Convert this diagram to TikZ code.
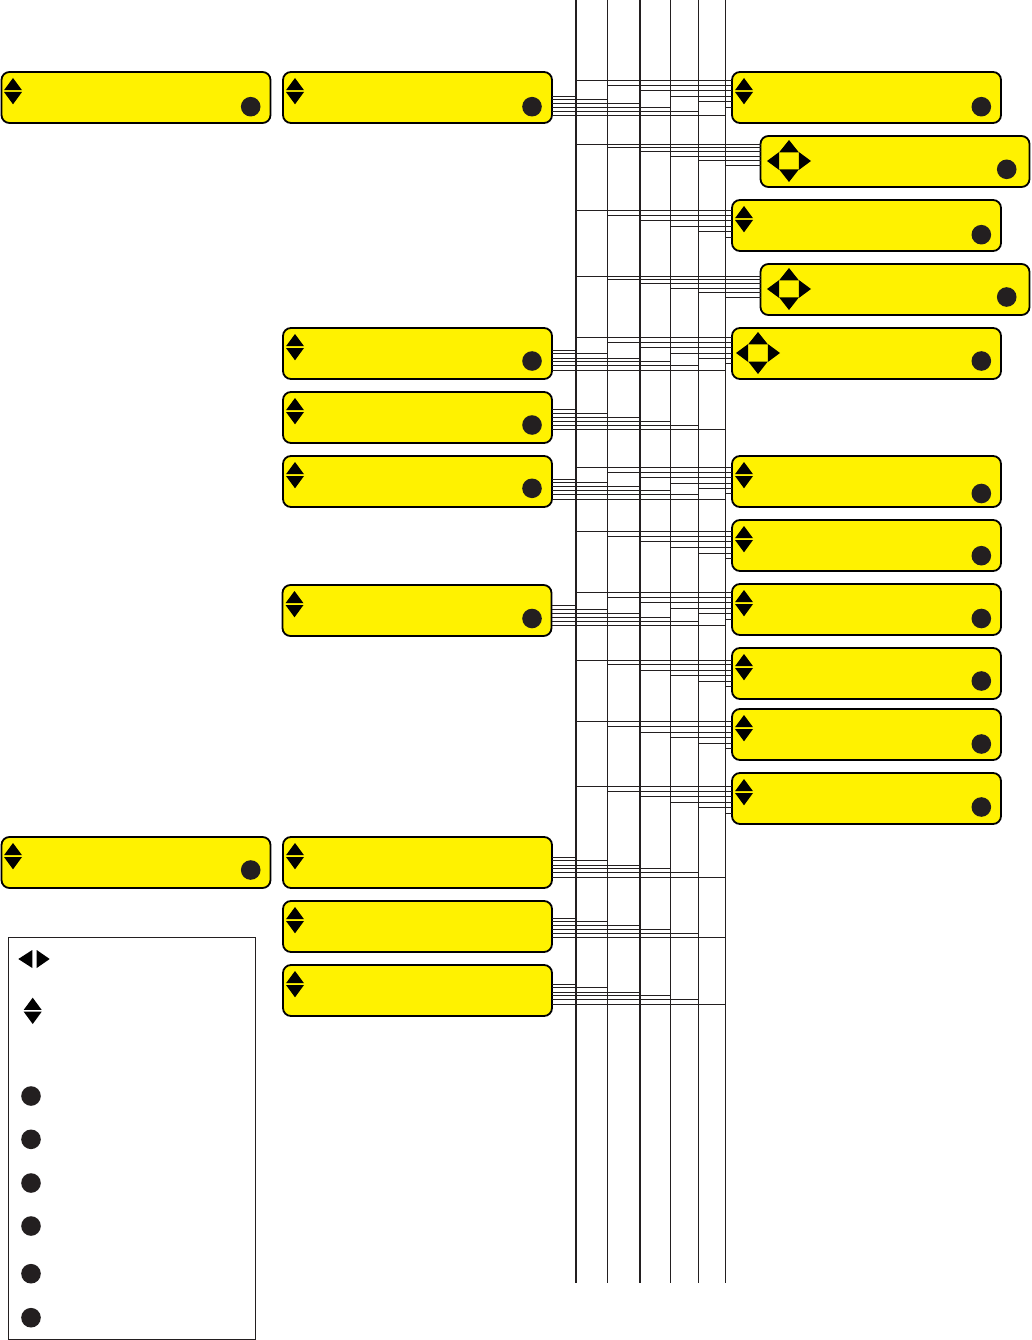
\documentclass[tikz,border=0pt]{standalone}
\definecolor{panelyellow}{HTML}{FFF200}
\definecolor{ink}{HTML}{231F20}
\tikzset{
  x=1bp,y=-1bp,
  panel/.style={draw=black,line width=1.8bp,fill=panelyellow,rounded corners=8bp,
    minimum width=269bp,minimum height=51bp,inner sep=0pt,outer sep=0pt,anchor=north west},
  legendbox/.style={draw=ink,line width=1bp,fill=white,minimum width=247bp,minimum height=402bp,
    inner sep=0pt,outer sep=0pt,anchor=north west},
  bus/.style={draw=ink,line width=2.1bp},
  thinbus/.style={draw=ink,line width=1bp},
  wire/.style={draw=ink,line width=0.9bp},
  knob/.style={circle,fill=ink,minimum size=19.6bp,inner sep=0pt,outer sep=0pt},
  tri/.style={fill=black,draw=none}
}
% up/down arrow pair: centre x, top apex y
\newcommand{\updown}[2]{
  \fill[tri] (#1-9,#2+12.2) -- (#1,#2) -- (#1+9,#2+12.2) -- cycle;
  \fill[tri] (#1-9,#2+14) -- (#1,#2+26.3) -- (#1+9,#2+14) -- cycle;
}
% four-way arrows: centre x, centre y
\newcommand{\fourway}[2]{
  \fill[tri] (#1-9.8,#2-8.7) -- (#1,#2-21) -- (#1+9.8,#2-8.7) -- cycle;
  \fill[tri] (#1-9.8,#2+8.5) -- (#1,#2+21) -- (#1+9.8,#2+8.5) -- cycle;
  \fill[tri] (#1-9.8,#2-9) -- (#1-22,#2) -- (#1-9.8,#2+9) -- cycle;
  \fill[tri] (#1+9.8,#2-9) -- (#1+22,#2) -- (#1+9.8,#2+9) -- cycle;
}
% wires from each of the six buses to the left edge of a panel
\newcommand{\wiresin}[7]{
  \foreach \bb/\yy in {b1/#2,b2/#3,b3/#4,b4/#5,b5/#6,b6/#7}
    \draw[wire] (\bb |- 0,\yy) -- (#1.west |- 0,\yy);
}
% wires from the right edge of a panel to each of the six buses
\newcommand{\wiresout}[7]{
  \foreach \bb/\yy in {b1/#2,b2/#3,b3/#4,b4/#5,b5/#6,b6/#7}
    \draw[wire] (#1.east |- 0,\yy) -- (\bb |- 0,\yy);
}
\begin{document}
\begin{tikzpicture}
\useasboundingbox (0,0) rectangle (1031,1340);
% buses
\foreach \nm/\xx in {b1/575.7,b2/607.3,b3/639.7,b4/670.3,b5/698.3,b6/725.3}{
  \coordinate (\nm) at (\xx,0);
  \coordinate (\nm e) at (\xx,1283);
}
\draw[bus] (b1) -- (b1e);
\draw[thinbus] (b2) -- (b2e);
\draw[bus] (b3) -- (b3e);
\draw[thinbus] (b4) -- (b4e);
\draw[thinbus] (b5) -- (b5e);
\draw[thinbus] (b6) -- (b6e);
% panels, first column
\node[panel] (a1) at (1.5,72) {};
\node[panel] (a2) at (1.5,837) {};
% panels, second column
\node[panel] (m1) at (283,72) {};
\node[panel] (m2) at (283,328) {};
\node[panel] (m3) at (283,392) {};
\node[panel] (m4) at (283,456) {};
\node[panel] (m5) at (282.5,585) {};
\node[panel] (m6) at (283,837) {};
\node[panel] (m7) at (283,901) {};
\node[panel] (m8) at (283,965) {};
% panels, third column
\node[panel] (r1) at (732,72) {};
\node[panel] (r2) at (760.5,136) {};
\node[panel] (r3) at (732,200) {};
\node[panel] (r4) at (760.5,264) {};
\node[panel] (r5) at (732,328) {};
\node[panel] (r6) at (732,456) {};
\node[panel] (r7) at (732,520) {};
\node[panel] (r8) at (732,584) {};
\node[panel] (r9) at (732,648) {};
\node[panel] (r10) at (732,709) {};
\node[panel] (r11) at (732,773) {};
% wires
\wiresout{m1}{96.3}{99.5}{103.3}{107.3}{111.3}{115.3}
\wiresout{m2}{350.3}{353.3}{358.3}{361.3}{365.3}{370.3}
\wiresout{m3}{409.3}{413.3}{417.3}{421.3}{425.3}{429.3}
\wiresout{m4}{479.3}{482.3}{486.3}{490.3}{494.3}{499.3}
\wiresout{m5}{605.3}{609.3}{613.3}{617.3}{621.3}{625.3}
\wiresout{m6}{857.3}{860.3}{865.3}{868.3}{872.3}{877.3}
\wiresout{m7}{918.3}{921.3}{925.3}{929.3}{933.3}{937.3}
\wiresout{m8}{984.3}{987.3}{992.3}{995.3}{999.3}{1004.3}
\wiresin{r1}{80.3}{85.3}{90.3}{96.3}{101.3}{107.3}
\wiresin{r2}{144.3}{147.5}{151.3}{156.3}{160.3}{165.3}
\wiresin{r3}{210.3}{215.3}{220.3}{226.3}{231.3}{237.3}
\wiresin{r4}{276.3}{279.3}{283.3}{288.3}{292.3}{297.3}
\wiresin{r5}{337.3}{342.3}{347.3}{353.3}{358.3}{363.3}
\wiresin{r6}{467.3}{472.3}{477.3}{483.3}{488.3}{493.3}
\wiresin{r7}{531.3}{536.3}{541.3}{547.3}{553.3}{558.3}
\wiresin{r8}{592.3}{597.3}{602.3}{608.3}{613.3}{619.3}
\wiresin{r9}{660.3}{664.3}{670.3}{675.3}{681.3}{686.3}
\wiresin{r10}{721.3}{726.3}{732.3}{737.3}{743.3}{748.3}
\wiresin{r11}{786.3}{791.3}{796.3}{802.3}{807.3}{813.3}
% arrow icons
\updown{13}{78}
\updown{13}{843}
\updown{295}{78}
\updown{295}{334}
\updown{295}{398}
\updown{295}{462}
\updown{294.5}{591}
\updown{295}{843}
\updown{295}{907}
\updown{295}{971}
\updown{744}{78}
\updown{744}{206}
\updown{744}{462}
\updown{744}{526}
\updown{744}{590}
\updown{744}{654}
\updown{744}{715}
\updown{744}{779}
\fourway{789}{161}
\fourway{789}{289}
\fourway{758}{353}
% knobs
\node[knob] (k1) at (250.7,106.7) {};
\node[knob] (k2) at (250.7,870) {};
\node[knob] (k3) at (532,106.7) {};
\node[knob] (k4) at (532,361) {};
\node[knob] (k5) at (532,425) {};
\node[knob] (k6) at (532,488.3) {};
\node[knob] (k7) at (532,618.5) {};
\node[knob] (k8) at (981.3,106.7) {};
\node[knob] (k9) at (1006.7,169.3) {};
\node[knob] (k10) at (981.3,234.7) {};
\node[knob] (k11) at (1006.7,297) {};
\node[knob] (k12) at (981.3,361) {};
\node[knob] (k13) at (981.3,493.5) {};
\node[knob] (k14) at (981.3,555.7) {};
\node[knob] (k15) at (981.3,618.5) {};
\node[knob] (k16) at (981.3,681) {};
\node[knob] (k17) at (981.3,744) {};
\node[knob] (k18) at (981.3,807) {};
% legend
\node[legendbox] (legend) at (8.5,937.5) {};
\fill[tri] (32.3,950) -- (18.3,959) -- (32.3,968) -- cycle;
\fill[tri] (36.7,950) -- (49.7,959) -- (36.7,968) -- cycle;
\updown{32.7}{997.7}
\node[knob] (l1) at (31,1096) {};
\node[knob] (l2) at (31,1139.3) {};
\node[knob] (l3) at (31,1183) {};
\node[knob] (l4) at (31,1226) {};
\node[knob] (l5) at (31,1273.7) {};
\node[knob] (l6) at (31,1317.7) {};
\end{tikzpicture}
\end{document}
